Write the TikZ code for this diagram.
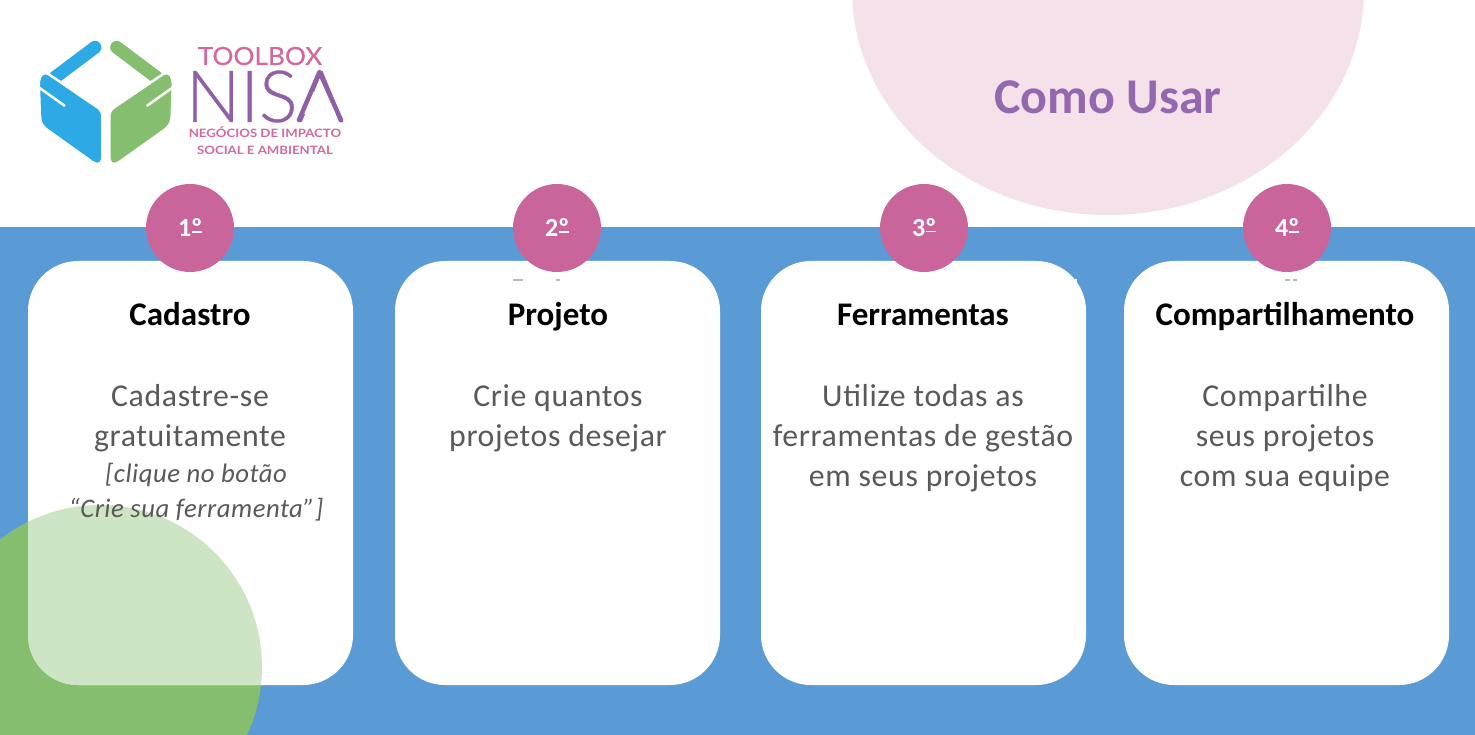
\documentclass[tikz,border=0pt]{standalone}
\usepackage{fontspec}
\setmainfont{Carlito}
\newfontfamily\logolight[FakeBold=0.4]{Lato Light}
\newfontfamily\logoreg[FakeStretch=1.05,FakeBold=0.5]{Lato}
\newfontfamily\logowide[FakeStretch=1.15]{Lato Bold}
\newfontfamily\bodyfont[LetterSpace=2]{Carlito}
\newfontfamily\bodyital[LetterSpace=2,ItalicFont={Carlito Italic}]{Carlito}
\definecolor{bandblue}{HTML}{5B9BD5}
\definecolor{leafgreen}{HTML}{84BE6E}
\definecolor{leaflight}{HTML}{CDE5C4}
\definecolor{blush}{HTML}{F5E1EA}
\definecolor{rose}{HTML}{C9659A}
\definecolor{logopink}{HTML}{D2699E}
\definecolor{logopurple}{HTML}{8F5FA8}
\definecolor{titlepurple}{HTML}{9468AE}
\definecolor{bodygray}{HTML}{595959}
\definecolor{logoblue}{HTML}{2DA9E6}
\definecolor{speck}{HTML}{BBBBBB}
\newcommand{\ordmark}{º\kern-.42em\rule[.17em]{.4em}{.07em}}
\tikzset{
  x=1pt,y=-1pt,
  card/.style={fill=white,rounded corners=50pt},
  badge/.style={circle,fill=rose,minimum size=88pt,inner sep=0pt,text=white,font=\fontsize{26}{28}\selectfont\bfseries},
  cardtitle/.style={anchor=base,inner sep=0pt,text=black,font=\fontsize{33}{36}\selectfont\bfseries},
  cardbody/.style={anchor=north,inner sep=0pt,align=center,text=bodygray,font=\fontsize{31.8}{40}\selectfont\bodyfont},
  cardnote/.style={anchor=north,inner sep=0pt,align=center,text=bodygray,font=\fontsize{26.7}{35}\selectfont\bodyital\itshape},
  logotxt/.style={anchor=base,inner sep=0pt,text=logopink},
  logoband/.style={draw=white,line width=2.5pt,rounded corners=5pt},
  logostrip/.style={line width=13pt,line cap=round}
}
\begin{document}
\begin{tikzpicture}
\useasboundingbox (0,0) rectangle (1475,735);
\fill[white] (0,0) rectangle (1475,735);
\fill[bandblue] (0,227) rectangle (1475,735);
\begin{scope}
\clip (0,0) rectangle (1475,735);
\fill[blush] (1108,-10) ellipse [x radius=256pt,y radius=225pt];
\fill[leafgreen] (100,667) circle [radius=162pt];
\end{scope}
% cards
\fill[card] (28,261) rectangle (353,685);
\fill[card] (395,261) rectangle (720,685);
\fill[card] (761,261) rectangle (1086,685);
\fill[card] (1124,261) rectangle (1449,685);
\begin{scope}
\clip[rounded corners=50pt] (28,261) rectangle (353,685);
\fill[leaflight] (100,667) circle [radius=162pt];
\end{scope}
% specks on the card tops
\fill[speck] (513,279.5) rectangle (523,281);
\fill[speck] (556,279.5) rectangle (560,281);
\fill[speck] (1285,279.5) rectangle (1290,281);
\fill[speck] (1293,279.5) rectangle (1297,281);
\fill[white] (1075,279.5) rectangle (1077,283);
\node[anchor=base,inner sep=0pt,text=titlepurple,font=\fontsize{50}{54}\selectfont\bfseries] (howto) at (1108,113.5) {Como Usar};
% badges
\node[badge] (b1) at (190,228) {1\ordmark};
\node[badge] (b2) at (557,228) {2\ordmark};
\node[badge] (b3) at (924,228) {3\ordmark};
\node[badge] (b4) at (1287,228) {4\ordmark};
% card text
\node[cardtitle] (t1) at (190,326) {Cadastro};
\node[cardtitle] (t2) at (558,326) {Projeto};
\node[cardtitle] (t3) at (923,326) {Ferramentas};
\node[cardtitle] (t4) at (1285,326) {Compartilhamento};
\node[cardbody] (c1) at (190,384) {Cadastre-se\\gratuitamente};
\node[cardnote] (n1) at (196,463) {[clique no botão\\“Crie sua ferramenta”]};
\node[cardbody] (c2) at (558,384) {Crie quantos\\projetos desejar};
\node[cardbody] (c3) at (923,384) {Utilize todas as\\ferramentas de gestão\\em seus projetos};
\node[cardbody] (c4) at (1285,384) {Compartilhe\\seus projetos\\com sua equipe};
% logo mark
\begin{scope}[shift={(20pt,-20pt)},x=0.3333pt,y=-0.3333pt]
  \draw[logoblue,logostrip] (225,82) -- (105,172);
  \draw[leafgreen,logostrip] (290,82) -- (410,172);
  \filldraw[fill=logoblue,logoband] (56,176) -- (72,153) -- (247,272) -- (247,432) -- (228,434) -- (68,320) -- (60,300) -- cycle;
  \filldraw[fill=leafgreen,logoband] (459,176) -- (443,153) -- (268,272) -- (268,432) -- (287,434) -- (447,320) -- (455,300) -- cycle;
  \draw[white,line width=2.5pt] (56,202) -- (135,258);
  \draw[white,line width=2.5pt] (459,202) -- (380,258);
\end{scope}
% logo text
\node[logotxt,font=\fontsize{25}{28}\logoreg] (lg1) at (260,65) {TOOLBOX};
\begin{scope}[even odd rule]
\clip (180,60) rectangle (350,130)
  (313,92) -- (327,92) -- (337,114) -- (302,114) -- cycle;
\node[logotxt,text=logopurple,font=\fontsize{72}{72}\logolight] (lg2) at (265,122) {NISA};
\end{scope}
\draw[logopurple,line width=4.5pt,line cap=round,line join=round] (299,120) -- (319.5,72) -- (341,120);
\node[logotxt,font=\fontsize{11.5}{14}\logowide] (lg3) at (265,138) {NEGÓCIOS DE IMPACTO};
\node[logotxt,font=\fontsize{11.5}{14}\logowide] (lg4) at (265,155) {SOCIAL E AMBIENTAL};
\end{tikzpicture}
\end{document}
